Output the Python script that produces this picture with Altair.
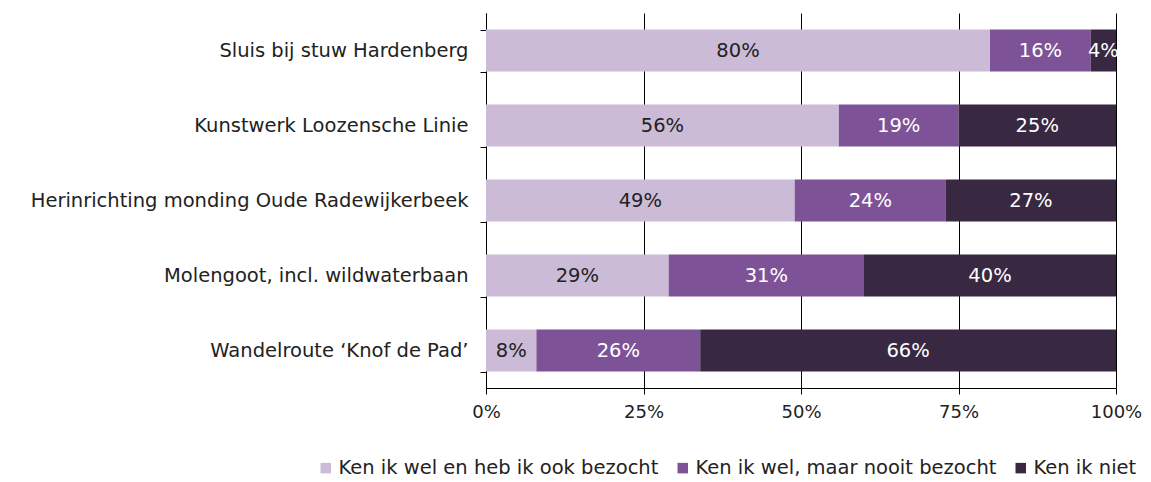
import altair as alt
import pandas as pd

categories = [
    "Sluis bij stuw Hardenberg",
    "Kunstwerk Loozensche Linie",
    "Herinrichting monding Oude Radewijkerbeek",
    "Molengoot, incl. wildwaterbaan",
    "Wandelroute \u2018Knof de Pad\u2019",
]
series = [
    "Ken ik wel en heb ik ook bezocht",
    "Ken ik wel, maar nooit bezocht",
    "Ken ik niet",
]
visited = [80, 56, 49, 29, 8]
known_not_visited = [16, 19, 24, 31, 26]
unknown = [4, 25, 27, 40, 66]
colors = ["#CBBBD6", "#7E5296", "#392841"]

rows = []
for i, c in enumerate(categories):
    for j, (s, vals) in enumerate(zip(series, [visited, known_not_visited, unknown])):
        rows.append({"cat": c, "series": s, "order": j, "value": vals[i]})
df = pd.DataFrame(rows)

FONT = "DejaVu Sans"
FS = 19.5

base = alt.Chart(df).transform_stack(
    stack="value", groupby=["cat"], as_=["x0", "x1"], sort=[alt.SortField("order")]
).transform_calculate(
    mid="(datum.x0 + datum.x1) / 2",
    label="datum.value + '%'",
)

y_enc = alt.Y(
    "cat:N",
    sort=categories,
    title=None,
    scale=alt.Scale(paddingInner=0.44, paddingOuter=0.22),
    axis=alt.Axis(
        tickBand="extent",
        tickSize=6,
        tickColor="#000000",
        domainColor="#000000",
        labelPadding=12,
        labelFontSize=FS,
        labelFont=FONT,
        labelColor="#222222",
        labelLimit=500,
        grid=False,
    ),
)

bars = base.mark_bar().encode(
    x=alt.X(
        "x0:Q",
        title=None,
        scale=alt.Scale(domain=[0, 100]),
        axis=alt.Axis(
            values=[0, 25, 50, 75, 100],
            labelExpr="datum.value + '%'",
            grid=True,
            gridColor="#000000",
            gridOpacity=1,
            gridWidth=1,
            tickSize=6,
            tickColor="#000000",
            domainColor="#000000",
            labelPadding=9,
            labelFontSize=18,
            labelFont=FONT,
            labelColor="#222222",
            labelFlush=False,
        ),
    ),
    x2="x1:Q",
    y=y_enc,
    color=alt.Color(
        "series:N",
        sort=series,
        scale=alt.Scale(domain=series, range=colors),
        legend=alt.Legend(
            title=None,
            orient="none",
            direction="horizontal",
            legendX=-170,
            legendY=445,
            symbolType="square",
            symbolSize=110,
            symbolStrokeWidth=0,
            labelFontSize=FS,
            labelFont=FONT,
            labelColor="#222222",
            labelOffset=3,
            columnPadding=14,
            labelLimit=600,
        ),
    ),
)

text = base.mark_text(fontSize=FS, font=FONT).encode(
    x="mid:Q",
    y=alt.Y("cat:N", sort=categories),
    text="label:N",
    color=alt.condition("datum.order == 0", alt.value("#222222"), alt.value("#FFFFFF")),
)

chart = (
    alt.layer(bars, text)
    .properties(
        width=630,
        height=375,
        autosize=alt.AutoSizeParams(type="none"),
        padding={"left": 478, "top": 5, "right": 27, "bottom": 96},
    )
    .configure_view(stroke=None)
)

chart.save("out.html", embed_options={"renderer": "svg", "actions": False})
